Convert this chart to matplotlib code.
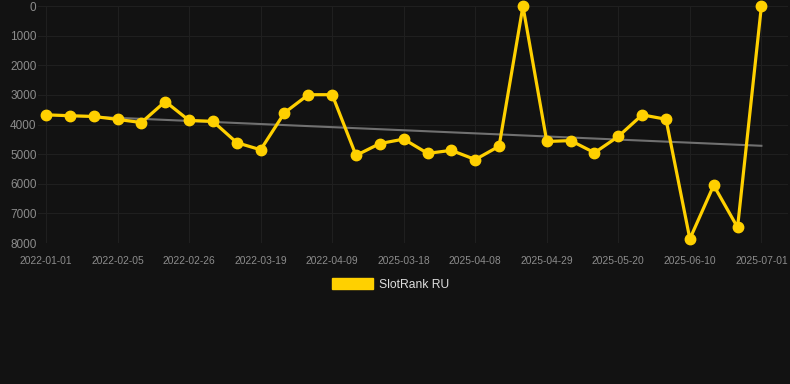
import matplotlib
matplotlib.use("Agg")
from matplotlib import pyplot as plt
from matplotlib.patches import Patch

plt.rcParams['font.family'] = ['Liberation Sans', 'DejaVu Sans']

# rank values, one per point (lower rank drawn higher)
ranks = [3670, 3700, 3725, 3825, 3930, 3220, 3860, 3890, 4610, 4850,
         3600, 2990, 2990, 5040, 4640, 4490, 4970, 4870, 5180, 4730,
         1, 4570, 4540, 4950, 4400, 3670, 3820, 7860, 6050, 7470, 1]
tickLabels = ['2022-01-01', '2022-02-05', '2022-02-26', '2022-03-19', '2022-04-09',
              '2025-03-18', '2025-04-08', '2025-04-29', '2025-05-20', '2025-06-10',
              '2025-07-01']
tickIdx = [0, 3, 6, 9, 12, 15, 18, 21, 24, 27, 30]
trendEnds = [3666, 4715]
yTicks = [0, 1000, 2000, 3000, 4000, 5000, 6000, 7000, 8000]

bg = '#121212'
gold = '#FFD000'

fig = plt.figure(figsize=(7.9, 3.84), dpi=100, facecolor=bg)
ax = fig.add_axes([0.048, 0.367, 0.949, 0.617], facecolor=bg)

xs = list(range(len(ranks)))
ax.plot([xs[0], xs[-1]], trendEnds, color='#707070', lw=1.5, zorder=2)
ax.plot(xs, ranks, color=gold, lw=2.3, marker='o', ms=7.5, zorder=3, clip_on=False)

ax.set_ylim(8000, 0)
ax.set_xlim(-0.34, 31.1)
ax.set_yticks(yTicks)
ax.set_yticklabels([str(v) for v in yTicks])
ax.set_xticks(tickIdx)
ax.set_xticklabels(tickLabels)
ax.tick_params(axis='y', length=0, pad=1, labelsize=8.5, colors='#8c8c8c')
ax.tick_params(axis='x', length=0, pad=9, labelsize=7.4, colors='#8c8c8c')
ax.grid(color='#1f1f1f', lw=0.8)
for s in ax.spines.values():
    s.set_visible(False)

handle = Patch(facecolor=gold, edgecolor=gold)
fig.legend([handle], ['SlotRank RU'], loc='center', bbox_to_anchor=(0.494, 0.26),
           frameon=False, fontsize=8.7, labelcolor='#dddddd',
           handlelength=3.4, handleheight=1.1, handletextpad=0.5)

fig.savefig('out.png', dpi=100, facecolor=bg)
